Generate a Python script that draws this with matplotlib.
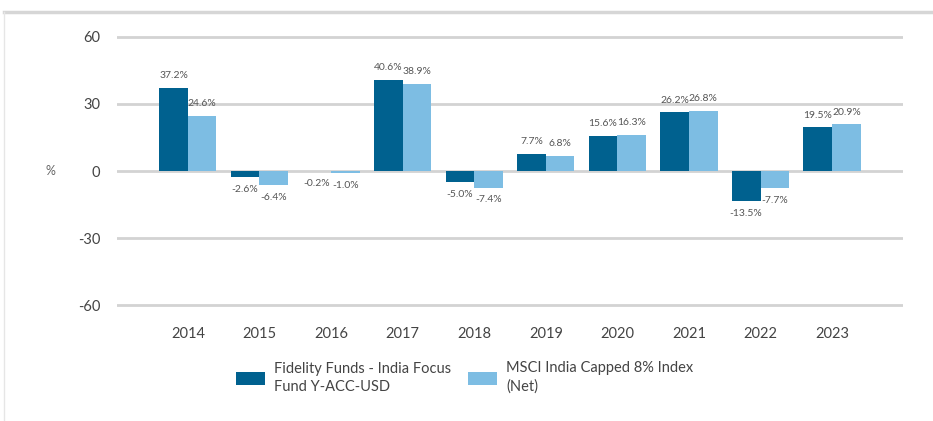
import numpy as np
import matplotlib.pyplot as plt
from matplotlib.lines import Line2D

years = ['2014', '2015', '2016', '2017', '2018', '2019', '2020', '2021', '2022', '2023']
fund = [37.2, -2.6, -0.2, 40.6, -5.0, 7.7, 15.6, 26.2, -13.5, 19.5]
index = [24.6, -6.4, -1.0, 38.9, -7.4, 6.8, 16.3, 26.8, -7.7, 20.9]
names = ['Fidelity Funds - India Focus\nFund Y-ACC-USD', 'MSCI India Capped 8% Index\n(Net)']
yticks = [-60, -30, 0, 30, 60]

dark = '#00618f'
light = '#7dbde3'
txt = '#444444'
plt.rcParams['font.family'] = ['Lato', 'DejaVu Sans']
plt.rcParams['axes.unicode_minus'] = False

fig = plt.figure(figsize=(9.33, 4.21), dpi=100)
ax = fig.add_axes([0.1254, 0.2489, 0.8424, 0.6898])

x = np.arange(len(years))
w = 0.4
b1 = ax.bar(x - w/2, fund, w, color=dark, label=names[0], zorder=3)
b2 = ax.bar(x + w/2, index, w, color=light, label=names[1], zorder=3)

for bars, vals in [(b1, fund), (b2, index)]:
    for r, v in zip(bars, vals):
        cx = r.get_x() + r.get_width() / 2
        if v >= 0:
            ax.text(cx, v + 3.5, f'{v:.1f}%', ha='center', va='bottom', fontsize=7.5, color='#555555')
        else:
            ax.text(cx, v - 3.5, f'{v:.1f}%', ha='center', va='top', fontsize=7.5, color='#555555')

ax.set_xlim(-0.99, 9.99)
ax.set_ylim(-65, 65)
ax.set_yticks(yticks)
ax.set_xticks(x)
ax.set_xticklabels(years)
ax.tick_params(length=0, labelsize=10.5, colors=txt)
ax.tick_params(axis='y', pad=12)
ax.tick_params(axis='x', pad=8)
ax.grid(axis='y', color='#d3d3d3', linewidth=2, zorder=0)
for s in ax.spines.values():
    s.set_visible(False)
ax.set_ylabel('%', rotation=0, fontsize=9, color='#666666', va='center')
ax.yaxis.set_label_coords(-0.085, 0.5)

leg = ax.legend(loc='upper left', bbox_to_anchor=(0.135, -0.11), ncol=2, frameon=False,
                fontsize=10.5, labelcolor=txt, handlelength=2.0, handleheight=1.0,
                columnspacing=1.15, handletextpad=0.6)
for t in leg.get_texts():
    t.set_linespacing(1.4)

fig.add_artist(Line2D([0.004, 1], [0.971, 0.971], color='#d6d6d6', linewidth=2.5, transform=fig.transFigure))
fig.add_artist(Line2D([0.004, 0.004], [0, 0.971], color='#e6e6e6', linewidth=1, transform=fig.transFigure))

fig.savefig('out.png', dpi=100)
